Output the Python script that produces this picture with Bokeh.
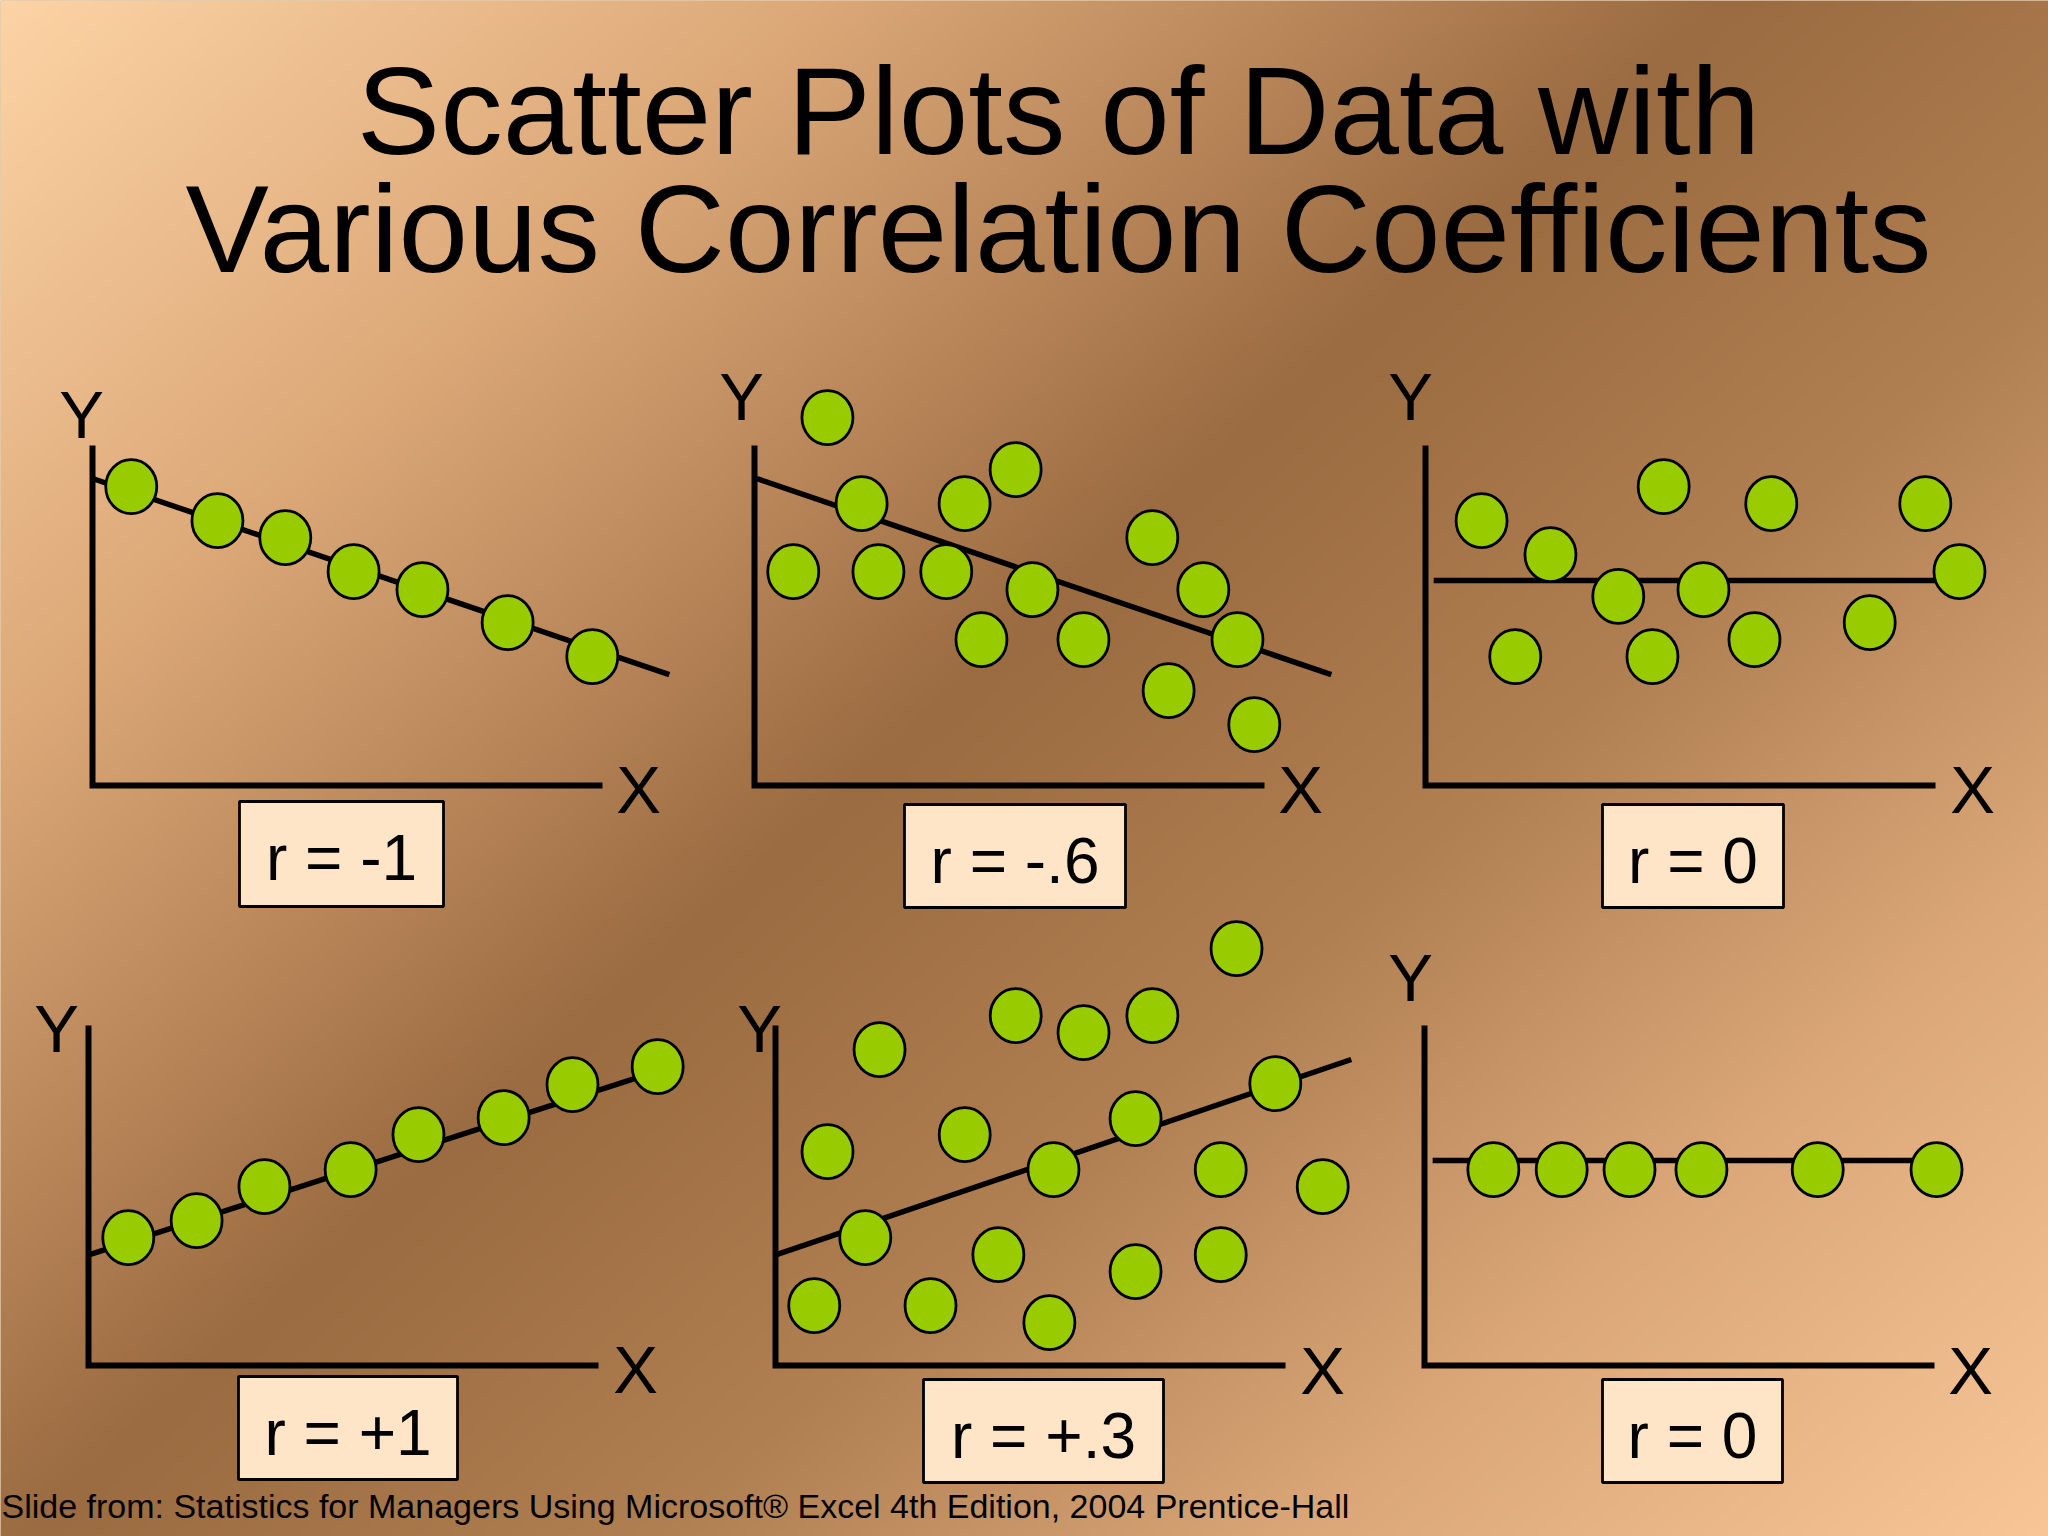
import numpy as np
from bokeh.plotting import figure
from bokeh.models import Range1d
from bokeh.core.properties import value
from bokeh.embed import file_html
from bokeh.resources import INLINE

# ---------------- text ----------------
title_lines = ["Scatter Plots of Data with", "Various Correlation Coefficients"]
footer_text = "Slide from: Statistics for Managers Using Microsoft\u00ae Excel  4th Edition, 2004 Prentice-Hall"
r_labels = ["r = -1", "r = -.6", "r = 0", "r = +1", "r = +.3", "r = 0"]
axis_names = ["X", "Y"]

# ---------------- data (panel units: x 0..10, y 0..10) ----------------
p1_x = [0.76, 2.45, 3.78, 5.12, 6.47, 8.14, 9.80]
p1_y = [8.79, 7.79, 7.29, 6.29, 5.76, 4.79, 3.79]
fit1_x = [0.0, 11.31]
fit1_y = [9.03, 3.26]

p2_x = [1.43, 2.10, 4.12, 5.12, 0.76, 2.43, 3.76, 5.45, 7.80, 8.80, 4.45, 6.45, 9.47, 8.12, 9.80]
p2_y = [10.82, 8.29, 8.29, 9.29, 6.29, 6.29, 6.29, 5.76, 7.29, 5.76, 4.29, 4.29, 4.29, 2.79, 1.79]
fit2_x = [0.04, 11.31]
fit2_y = [9.03, 3.26]

p3_x = [1.10, 2.45, 3.78, 4.67, 5.45, 6.78, 9.80, 10.47, 1.76, 4.45, 6.45, 8.71]
p3_y = [7.79, 6.79, 5.56, 8.79, 5.76, 8.29, 8.29, 6.29, 3.79, 3.79, 4.29, 4.79]
fit3_x = [0.16, 10.06]
fit3_y = [6.03, 6.03]

p4_x = [0.78, 2.12, 3.45, 5.14, 6.47, 8.14, 9.49, 11.16]
p4_y = [3.76, 4.26, 5.26, 5.76, 6.79, 7.29, 8.26, 8.79]
fit4_x = [0.02, 11.33]
fit4_y = [3.26, 8.74]

p5_x = [2.04, 4.71, 6.04, 7.39, 9.04, 1.02, 3.71, 5.45, 7.06, 9.80,
        8.73, 10.73, 1.76, 4.37, 7.06, 8.73, 0.76, 3.04, 5.37]
p5_y = [9.29, 10.29, 9.79, 10.29, 12.26, 6.29, 6.79, 5.76, 7.26, 8.29,
        5.76, 5.26, 3.76, 3.26, 2.76, 3.26, 1.76, 1.76, 1.26]
fit5_x = [0.02, 11.29]
fit5_y = [3.26, 9.00]

p6_x = [1.35, 2.69, 4.02, 5.43, 7.71, 10.04]
p6_y = [5.76, 5.76, 5.76, 5.76, 5.76, 5.76]
fit6_x = [0.16, 10.04]
fit6_y = [6.03, 6.03]

points = [(p1_x, p1_y), (p2_x, p2_y), (p3_x, p3_y), (p4_x, p4_y), (p5_x, p5_y), (p6_x, p6_y)]
fits = [(fit1_x, fit1_y), (fit2_x, fit2_y), (fit3_x, fit3_y),
        (fit4_x, fit4_y), (fit5_x, fit5_y), (fit6_x, fit6_y)]

# ---------------- layout (page pixels of the 2048x1536 slide) ----------------
PAGE_W, PAGE_H = 2048, 1536
W, H = PAGE_W, PAGE_H
UX, UY = 51.0, 34.0                      # pixels per panel unit
origins = [(92, 785), (754, 785), (1425, 785), (88, 1365), (775, 1365), (1424, 1365)]
boxes = [(239, 443, 801, 906), (904, 1125, 804, 907), (1602, 1783, 804, 907),
         (238, 457, 1376, 1479), (923, 1163, 1379, 1482), (1602, 1782, 1379, 1482)]
ylab_pos = [(81, 437), (741, 419), (1410, 419), (56, 1051), (759, 1051), (1410, 1000)]
xlab_pos = [(638, 812), (1300, 812), (1972, 812), (635, 1392), (1322, 1393), (1970, 1393)]

FONT = value("Liberation Sans")
GREEN = "#99CC00"
BOXFILL = "#FFE5C8"
BASE_FIX = 0.35   # svg text baseline correction, in em


def py(v):
    return PAGE_H - v


def pyt(v, fs):
    # page baseline -> plot y, corrected for the svg text placement
    return PAGE_H - (v - BASE_FIX * fs)


p = figure(width=W, height=H, x_range=Range1d(0, PAGE_W), y_range=Range1d(0, PAGE_H),
           output_backend="svg", toolbar_location=None, min_border=0,
           x_axis_location=None, y_axis_location=None)
p.grid.visible = False
p.outline_line_color = None
p.background_fill_color = "#C89868"
p.border_fill_color = "#C89868"

# ---------------- background gradient ----------------
GW, GH = W // 2, H // 2
gx = (np.arange(GW) + 0.5) * (W / GW)
gy_plot = (np.arange(GH) + 0.5) * (H / GH)
gy_page = PAGE_H - gy_plot
XX, YY = np.meshgrid(gx, gy_page)
s = (0.9 * XX + YY) / (0.9 * PAGE_W + PAGE_H)
stops_t = [0.0, 0.22, 0.46, 0.63, 0.80, 1.0]
stops_c = ["#FDD4A6", "#DCA878", "#9B6B41", "#B08052", "#DBA779", "#F9C797"]
rgb = np.array([[int(c[i:i + 2], 16) for i in (1, 3, 5)] for c in stops_c], dtype=float)
img = np.empty((GH, GW), dtype=np.uint32)
view = img.view(dtype=np.uint8).reshape((GH, GW, 4))
for ch in range(3):
    view[:, :, ch] = np.clip(np.interp(s, stops_t, rgb[:, ch]), 0, 255).astype(np.uint8)
view[:, :, 3] = 255
p.image_rgba(image=[img], x=0, y=0, dw=W, dh=H)

# ---------------- panels ----------------
extra_x, extra_y = {}, {}
for i, (ox, oy) in enumerate(origins):
    extra_x[f"x{i}"] = Range1d((0 - ox) / UX, (PAGE_W - ox) / UX)
    extra_y[f"y{i}"] = Range1d((oy - PAGE_H) / UY, (oy - 0) / UY)
p.extra_x_ranges = extra_x
p.extra_y_ranges = extra_y

for i in range(6):
    xr, yr = f"x{i}", f"y{i}"
    # axes (L shape)
    p.line(x=[0, 0, 10], y=[10, 0, 0], line_color="black", line_width=6,
           line_join="miter", line_cap="butt", x_range_name=xr, y_range_name=yr)
    # fitted line
    fx, fy = fits[i]
    p.line(x=fx, y=fy, line_color="black", line_width=5.5, line_cap="butt",
           x_range_name=xr, y_range_name=yr)
    # points
    px_, py_ = points[i]
    p.ellipse(x=px_, y=py_, width=51, height=54, width_units="screen", height_units="screen",
              fill_color=GREEN, line_color="black", line_width=2.8,
              x_range_name=xr, y_range_name=yr)

# axis letters
p.text(x=[a for a, b in ylab_pos], y=[pyt(b, 67) for a, b in ylab_pos], text=[axis_names[1]] * 6,
       text_font=FONT, text_font_size="67px", text_align="center", text_baseline="alphabetic",
       text_color="black")
p.text(x=[a for a, b in xlab_pos], y=[pyt(b, 67) for a, b in xlab_pos], text=[axis_names[0]] * 6,
       text_font=FONT, text_font_size="67px", text_align="center", text_baseline="alphabetic",
       text_color="black")

# r boxes
p.quad(left=[b[0] for b in boxes], right=[b[1] for b in boxes],
       top=[py(b[2]) for b in boxes], bottom=[py(b[3]) for b in boxes],
       fill_color=BOXFILL, line_color="black", line_width=2.8)
p.text(x=[(b[0] + b[1]) / 2 for b in boxes], y=[pyt(b[2] + 79, 64) for b in boxes], text=r_labels,
       text_font=FONT, text_font_size="64px", text_align="center", text_baseline="alphabetic",
       text_color="black")

# title
p.text(x=[1058, 1058], y=[pyt(154, 125), pyt(272, 125)], text=title_lines,
       text_font=FONT, text_font_size="125px", text_align="center", text_baseline="alphabetic",
       text_color="black")

# footer
p.text(x=[1], y=[pyt(1517, 34)], text=[footer_text],
       text_font=FONT, text_font_size="34px", text_align="left", text_baseline="alphabetic",
       text_color="black")

open("out.html", "w").write(file_html(p, INLINE))
